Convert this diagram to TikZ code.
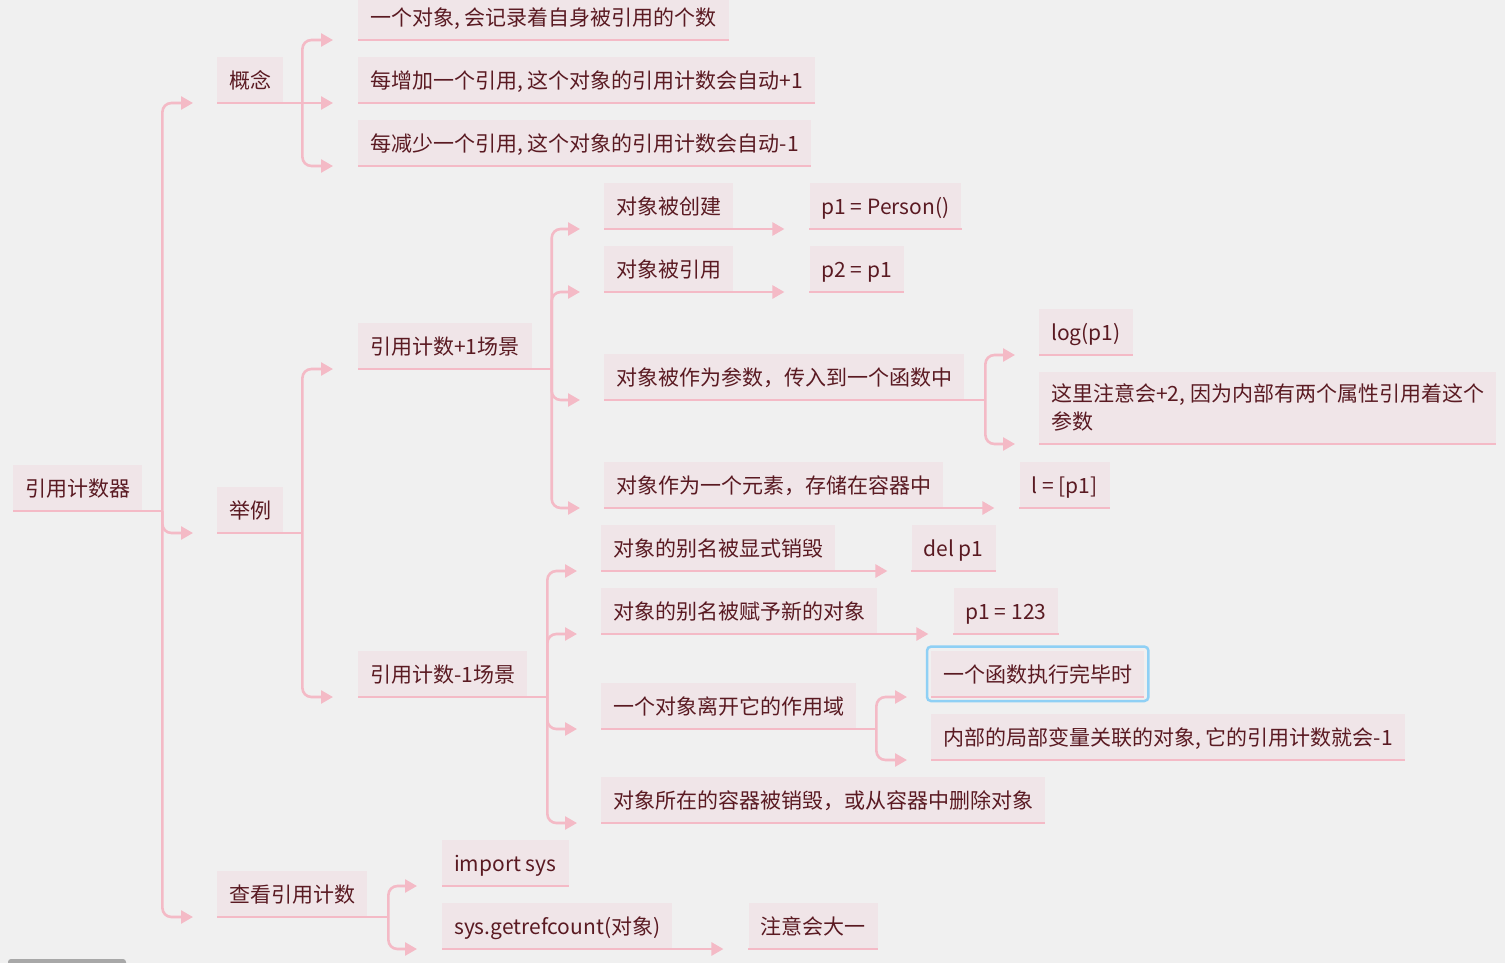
\documentclass[tikz,border=0pt]{standalone}
\usepackage{fontspec}
\setmainfont{Noto Sans CJK SC}
\usetikzlibrary{arrows.meta,calc}
\definecolor{bgc}{HTML}{F0F0F0}
\definecolor{nodefill}{HTML}{F0E5E8}
\definecolor{linec}{HTML}{F4BAC6}
\definecolor{txt}{HTML}{5A1A22}
\definecolor{selc}{HTML}{8FD0F5}
\definecolor{barc}{HTML}{A8A8A8}
\tikzset{
  box/.style={fill=nodefill, anchor=south west, inner xsep=12pt, inner ysep=0pt,
    minimum height=46pt, text=txt, font=\fontsize{21}{28}\selectfont},
  onel/.style={box, text height=18pt, text depth=0pt},
  uline/.style={draw=linec, line width=2.6pt},
  conn/.style={draw=linec, line width=2.6pt},
  arr/.style={conn, -{Triangle[length=12pt,width=13pt]}},
  branch/.style={arr, rounded corners=9pt},
}
\begin{document}
\begin{tikzpicture}[x=1pt,y=-1pt]
\fill[bgc] (0,0) rectangle (1505,963);
\useasboundingbox (0,0) rectangle (1505,963);
\fill[barc, rounded corners=3pt] (8,959) rectangle (126,968);

% nodes
\node[onel] (root) at (13,511) {引用计数器};
\node[onel] (c1) at (217,103) {概念};
\node[onel] (c1a) at (358,40) {一个对象, 会记录着自身被引用的个数};
\node[onel] (c1b) at (358,103) {每增加一个引用, 这个对象的引用计数会自动+1};
\node[onel] (c1c) at (358,166) {每减少一个引用, 这个对象的引用计数会自动-1};
\node[onel] (c2) at (217,533) {举例};
\node[onel] (p) at (358,369) {引用计数+1场景};
\node[onel] (p1) at (604,229) {对象被创建};
\node[onel] (p1v) at ($(p1.south east)+(76,0)$) {p1 = Person()};
\node[onel] (p2) at (604,292) {对象被引用};
\node[onel] (p2v) at ($(p2.south east)+(76,0)$) {p2 = p1};
\node[onel] (p3) at (604,400) {对象被作为参数，传入到一个函数中};
\node[onel] (p3a) at (1039,355) {log(p1)};
\node[box, minimum height=72pt, align=left] (p3b) at (1039,444) {这里注意会+2, 因为内部有两个属性引用着这个\\参数};
\node[onel] (p4) at (604,508) {对象作为一个元素，存储在容器中};
\node[onel] (p4v) at ($(p4.south east)+(76,0)$) {l = [p1]};
\node[onel] (m) at (358,697) {引用计数-1场景};
\node[onel] (m1) at (601,571) {对象的别名被显式销毁};
\node[onel] (m1v) at ($(m1.south east)+(76,0)$) {del p1};
\node[onel] (m2) at (601,634) {对象的别名被赋予新的对象};
\node[onel] (m2v) at ($(m2.south east)+(76,0)$) {p1 = 123};
\node[onel] (m3) at (601,729) {一个对象离开它的作用域};
\node[onel] (m3a) at (931,697) {一个函数执行完毕时};
\node[onel] (m3b) at (931,760) {内部的局部变量关联的对象, 它的引用计数就会-1};
\node[onel] (m4) at (601,823) {对象所在的容器被销毁，或从容器中删除对象};
\node[onel] (c3) at (217,917) {查看引用计数};
\node[onel] (c3a) at (442,886) {import sys};
\node[onel] (c3b) at (442,949) {sys.getrefcount(对象)};
\node[onel] (c3bv) at ($(c3b.south east)+(76,0)$) {注意会大一};

% underlines
\foreach \n in {root,c1,c1a,c1b,c1c,c2,p,p1,p1v,p2,p2v,p3,p3a,p3b,p4,p4v,m,m1,m1v,m2,m2v,m3,m3a,m3b,m4,c3,c3a,c3b,c3bv}
  \draw[uline] (\n.south west) -- (\n.south east);

% root branches
\draw[conn] (root.south west) -- ($(root.south east)+(20,0)$) coordinate (rb);
\foreach \c in {c1,c2,c3}
  \draw[branch] (rb) |- ($(\c.south west)+(-24,0)$);

% concept branches
\draw[conn] (c1.south west) -- ($(c1.south east)+(19,0)$) coordinate (c1j);
\draw[branch] (c1j) |- ($(c1a.south west)+(-25,0)$);
\draw[arr] (c1j) -- ($(c1b.south west)+(-25,0)$);
\draw[branch] (c1j) |- ($(c1c.south west)+(-25,0)$);

% example branches
\draw[conn] (c2.south west) -- ($(c2.south east)+(19,0)$) coordinate (c2j);
\foreach \c in {p,m}
  \draw[branch] (c2j) |- ($(\c.south west)+(-25,0)$);

% +1 scenes
\draw[conn] (p.south west) -- ($(p.south east)+(20,0)$) coordinate (pj);
\foreach \c in {p1,p2,p3,p4}
  \draw[branch] (pj) |- ($(\c.south west)+(-24,0)$);
\draw[arr] (p1.south west) -- ($(p1v.south west)+(-25,0)$);
\draw[arr] (p2.south west) -- ($(p2v.south west)+(-25,0)$);
\draw[arr] (p4.south west) -- ($(p4v.south west)+(-25,0)$);
\draw[conn] (p3.south west) -- ($(p3.south east)+(21,0)$) coordinate (p3j);
\foreach \c in {p3a,p3b}
  \draw[branch] (p3j) |- ($(\c.south west)+(-24,0)$);

% -1 scenes
\draw[conn] (m.south west) -- ($(m.south east)+(20,0)$) coordinate (mj);
\foreach \c in {m1,m2,m3,m4}
  \draw[branch] (mj) |- ($(\c.south west)+(-24,0)$);
\draw[arr] (m1.south west) -- ($(m1v.south west)+(-24,0)$);
\draw[arr] (m2.south west) -- ($(m2v.south west)+(-25,0)$);
\draw[conn] (m3.south west) -- ($(m3.south east)+(20,0)$) coordinate (m3j);
\foreach \c in {m3a,m3b}
  \draw[branch] (m3j) |- ($(\c.south west)+(-24,0)$);

% view refcount
\draw[conn] (c3.south west) -- ($(c3.south east)+(21,0)$) coordinate (c3j);
\foreach \c in {c3a,c3b}
  \draw[branch] (c3j) |- ($(\c.south west)+(-25,0)$);
\draw[arr] (c3b.south west) -- ($(c3bv.south west)+(-25,0)$);

% selection frame
\draw[selc, line width=2.5pt, rounded corners=4pt]
  ($(m3a.south west)+(-4,4)$) rectangle ($(m3a.north east)+(4,-4)$);
\end{tikzpicture}
\end{document}
